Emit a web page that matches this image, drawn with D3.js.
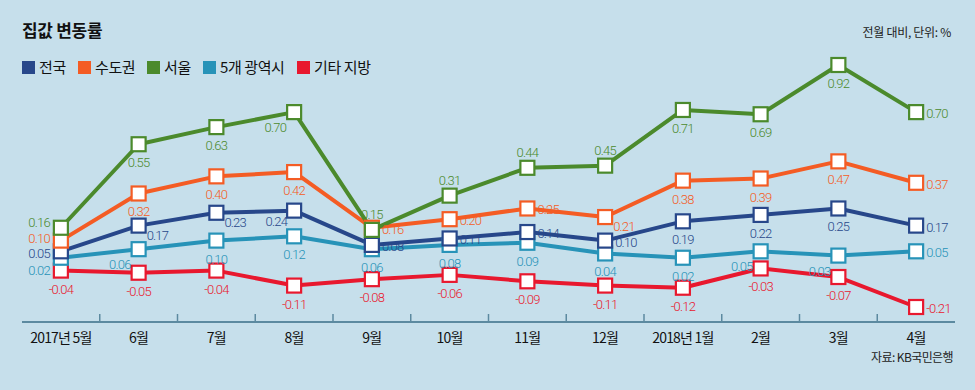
<!DOCTYPE html>
<html><head><meta charset="utf-8">
<script src="https://cdn.jsdelivr.net/npm/d3@7"></script>
<style>
html,body{margin:0;padding:0;background:#c6dfeb;}
svg{display:block;}
text{font-family:Roboto,"Noto Sans CJK KR",sans-serif;}
</style></head>
<body><div id="chart"></div>
<script>
const months = ["2017년 5월","6월","7월","8월","9월","10월","11월","12월","2018년 1월","2월","3월","4월"];
const seriesNames = ["전국","수도권","서울","5개 광역시","기타 지방"];
const national = [0.05,0.17,0.23,0.24,0.08,0.11,0.14,0.10,0.19,0.22,0.25,0.17];
const capital  = [0.10,0.32,0.40,0.42,0.16,0.20,0.25,0.21,0.38,0.39,0.47,0.37];
const seoul    = [0.16,0.55,0.63,0.70,0.15,0.31,0.44,0.45,0.71,0.69,0.92,0.70];
const metro5   = [0.02,0.06,0.10,0.12,0.06,0.08,0.09,0.04,0.02,0.05,0.03,0.05];
const others   = [-0.04,-0.05,-0.04,-0.11,-0.08,-0.06,-0.09,-0.11,-0.12,-0.03,-0.07,-0.21];

// label placement codes (layout, not data)
const posNational = ["l7","rb","rb","lb2","r","r","r","r","b","b","b","r"];
const posCapital  = ["l2","b","b","b","r","r","r","rb","b","b","b","r"];
const posSeoul    = ["l-1","b","b","lb","a","a","a","a","b","b","b","r"];
const posMetro    = ["l17","lb","b","b","b","b","b","b","b","lb","lb","r"];
const posOthers   = ["b","b","b","b","b","b","b","b","b","b","b","r"];

const colors = ["#27478a","#f45c24","#4b8a2c","#2793b8","#e8182e"];

const series = [
  {name:seriesNames[0], values:national, pos:posNational, color:colors[0]},
  {name:seriesNames[1], values:capital,  pos:posCapital,  color:colors[1]},
  {name:seriesNames[2], values:seoul,    pos:posSeoul,    color:colors[2]},
  {name:seriesNames[3], values:metro5,   pos:posMetro,    color:colors[3]},
  {name:seriesNames[4], values:others,   pos:posOthers,   color:colors[4]}
];

const W=975,H=390;
const svg=d3.select("#chart").append("svg").attr("width",W).attr("height",H);
svg.append("rect").attr("width",W).attr("height",H).attr("fill","#c6dfeb");

const x=d3.scaleBand().domain(months).range([22,955]);
const y=d3.scaleLinear().domain([-0.21,0.92]).range([307,65]);
const cx=m=>x(m)+x.bandwidth()/2;

// title
svg.append("text").attr("x",22).attr("y",37).attr("font-size",17).attr("font-weight","bold")
  .style("font-family","'Noto Sans CJK KR',sans-serif").attr("fill","#111").attr("letter-spacing","-0.3").text("집값 변동률");
svg.append("text").attr("x",951).attr("y",37).attr("text-anchor","end").attr("font-size",12)
  .style("font-family","'Noto Sans CJK KR',sans-serif").attr("fill","#222").attr("letter-spacing","-0.3").text("전월 대비, 단위: %");
svg.append("text").attr("x",953).attr("y",362).attr("text-anchor","end").attr("font-size",12)
  .style("font-family","'Noto Sans CJK KR',sans-serif").attr("fill","#222").attr("letter-spacing","-0.6").text("자료: KB국민은행");

// legend
const legX=[22,78,147,203,297];
series.forEach((s,i)=>{
  const g=svg.append("g").attr("transform",`translate(${legX[i]},61)`);
  g.append("rect").attr("width",13).attr("height",13).attr("fill",s.color);
  g.append("text").attr("x",17).attr("y",12).attr("font-size",15).attr("fill","#111")
   .style("font-family","'Noto Sans CJK KR',sans-serif").attr("letter-spacing","-0.4").text(s.name);
});

// axis
const axisG=svg.append("g").attr("transform","translate(0,322)");
axisG.append("line").attr("x1",22).attr("x2",955).attr("stroke","#5c8aa0").attr("stroke-width",2);
months.slice(1).forEach(m=>{
  axisG.append("line").attr("x1",x(m)).attr("x2",x(m)).attr("y1",0).attr("y2",-8)
    .attr("stroke","#5c8aa0").attr("stroke-width",1.5);
});
months.forEach(m=>{
  axisG.append("text").attr("x",cx(m)).attr("y",21).attr("text-anchor","middle")
    .attr("font-size",14).attr("fill","#111").attr("letter-spacing","-0.8")
    .style("font-family","'Noto Sans CJK KR',sans-serif").text(m);
});

const line=d3.line().x((d,i)=>cx(months[i])).y(d=>y(d));
const drawOrder=[4,3,0,1,2];
drawOrder.forEach(k=>{
  const s=series[k];
  svg.append("path").datum(s.values).attr("d",line).attr("fill","none")
    .attr("stroke",s.color).attr("stroke-width",4).attr("stroke-linejoin","round");
});
drawOrder.forEach(k=>{
  const s=series[k];
  svg.append("g").selectAll("rect").data(s.values).join("rect")
    .attr("x",(d,i)=>cx(months[i])-7).attr("y",d=>y(d)-7)
    .attr("width",14).attr("height",14).attr("fill","#fff")
    .attr("stroke",s.color).attr("stroke-width",2.2);
});
const fmt=v=>v.toFixed(2);
series.forEach(s=>{
  s.values.forEach((v,i)=>{
    const px=cx(months[i]), py=y(v), p=s.pos[i];
    let tx=px, ty=py, anchor="middle";
    if(p==="b"){ty=py+23;}
    else if(p==="a"){ty=py-11;}
    else if(/^l-?\d+$/.test(p)){tx=px-11;ty=py+(+p.slice(1));anchor="end";}
    else if(p==="r"){tx=px+10;ty=py+6;anchor="start";}
    else if(p==="rb"){tx=px+8;ty=py+14;anchor="start";}
    else if(p==="lb"){tx=px-8;ty=py+20;anchor="end";}
    else if(p==="lb2"){tx=px-7;ty=py+15;anchor="end";}
    svg.append("text").attr("x",tx).attr("y",ty).attr("text-anchor",anchor)
      .attr("font-size",13).attr("font-weight",300).attr("fill",s.color).attr("letter-spacing","-0.8").text(fmt(v));
  });
});
</script></body></html>
